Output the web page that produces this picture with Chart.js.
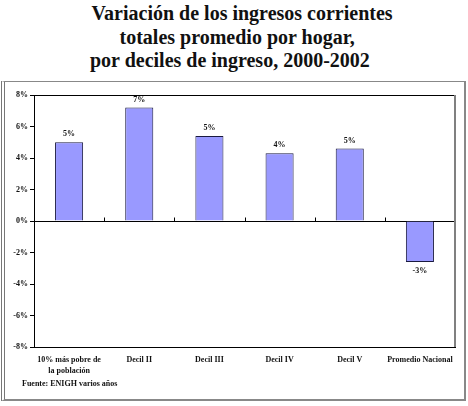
<!DOCTYPE html>
<html>
<head>
<meta charset="utf-8">
<script src="https://cdn.jsdelivr.net/npm/chart.js@4"></script>
<style>
  body { margin:0; background:#fff; width:468px; height:406px; position:relative; overflow:hidden; font-family:"Liberation Serif","Times New Roman",serif; }
  .t { position:absolute; font-weight:bold; font-size:20px; white-space:nowrap; color:#111; }
  #box { position:absolute; left:1px; top:81px; width:459px; height:317px; border:1px solid #888; border-left:4px double #777; border-bottom:2px solid #888; border-right:2px solid #888; }
  #src { position:absolute; left:22px; top:379px; font-size:8px; font-weight:bold; color:#111; }
  canvas { position:absolute; left:0; top:0; }
</style>
</head>
<body>
<div class="t" id="t1" style="top:2px">Variación de los ingresos corrientes</div>
<div class="t" id="t2" style="top:26px">totales promedio por hogar,</div>
<div class="t" id="t3" style="top:49px">por deciles de ingreso, 2000-2002</div>
<div id="box"></div>
<canvas id="c" width="468" height="406" style="width:468px;height:406px"></canvas>
<div id="src">Fuente: ENIGH varios años</div>
<script>
// ============ DATA ============
const categories = [['10% más pobre de', 'la población'], 'Decil II', 'Decil III', 'Decil IV', 'Decil V', 'Promedio Nacional'];
const variation  = [5.0, 7.2, 5.4, 4.3, 4.6, -2.6];
const yTicks     = [-8, -6, -4, -2, 0, 2, 4, 6, 8];

// center each title line like the original (slightly off from each other)
[['t1', 242], ['t2', 237], ['t3', 230]].forEach(([id, cx]) => {
  const el = document.getElementById(id);
  el.style.left = (cx - el.offsetWidth / 2) + 'px';
});

// value labels over / under the bars, plot frame and category ticks on the 0 line
const extras = {
  id: 'extras',
  afterDatasetsDraw(chart) {
    const { ctx, chartArea: a, scales: { x, y } } = chart;
    ctx.save();
    // frame: top black, right gray
    ctx.strokeStyle = '#000'; ctx.lineWidth = 1;
    ctx.beginPath(); ctx.moveTo(a.left, Math.round(a.top) + 0.5); ctx.lineTo(a.right, Math.round(a.top) + 0.5); ctx.stroke();
    ctx.strokeStyle = '#808080'; ctx.lineWidth = 2;
    ctx.beginPath(); ctx.moveTo(a.right, a.top); ctx.lineTo(a.right, a.bottom); ctx.stroke();
    // small ticks at category boundaries
    const y0 = Math.round(y.getPixelForValue(0)) + 0.5;
    const step = (a.right - a.left) / categories.length;
    ctx.strokeStyle = '#000'; ctx.lineWidth = 1;
    for (let k = 1; k < categories.length; k++) {
      const px = Math.round(a.left + k * step) + 0.5;
      ctx.beginPath(); ctx.moveTo(px, y0 - 4); ctx.lineTo(px, y0); ctx.stroke();
    }
    // value labels
    ctx.fillStyle = '#111';
    ctx.font = 'bold 8px "Liberation Serif", serif';
    ctx.textAlign = 'center';
    ctx.textBaseline = 'middle';
    chart.getDatasetMeta(0).data.forEach((bar, i) => {
      const v = variation[i];
      const txt = Math.round(v) + '%';
      ctx.fillText(txt, bar.x, v >= 0 ? bar.y - 8 : bar.y + 9);
    });
    ctx.restore();
  }
};

new Chart(document.getElementById('c'), {
  type: 'bar',
  data: {
    labels: categories,
    datasets: [{
      data: variation,
      backgroundColor: '#9999ff',
      borderColor: '#1a1a40',
      borderWidth: 1,
      barPercentage: 0.4,
      categoryPercentage: 1
    }]
  },
  options: {
    responsive: false,
    animation: false,
    layout: { padding: { top: 95, right: 13, left: 0, bottom: 0 } },
    plugins: { legend: { display: false }, tooltip: { enabled: false } },
    scales: {
      x: {
        afterFit: s => { s.height = 59; },
        grid: { display: false, drawTicks: false },
        border: { color: '#000', width: 1 },
        ticks: { color: '#111', padding: 8, maxRotation: 0, autoSkip: false,
                 font: { family: '"Liberation Serif", serif', size: 8, weight: 'bold', lineHeight: 1.3 } }
      },
      y: {
        min: -8, max: 8,
        afterFit: s => { s.width = 34; },
        afterBuildTicks: s => { s.ticks = yTicks.map(v => ({ value: v })); },
        border: { color: '#000', width: 1 },
        grid: {
          color: c => (c.tick && c.tick.value === 0 ? '#000' : 'rgba(0,0,0,0)'),
          tickColor: '#000', tickLength: 4
        },
        ticks: { color: '#111', padding: 2, callback: v => v + '%',
                 font: { family: '"Liberation Serif", serif', size: 8, weight: 'bold' } }
      }
    }
  },
  plugins: [extras]
});
</script>
</body>
</html>
